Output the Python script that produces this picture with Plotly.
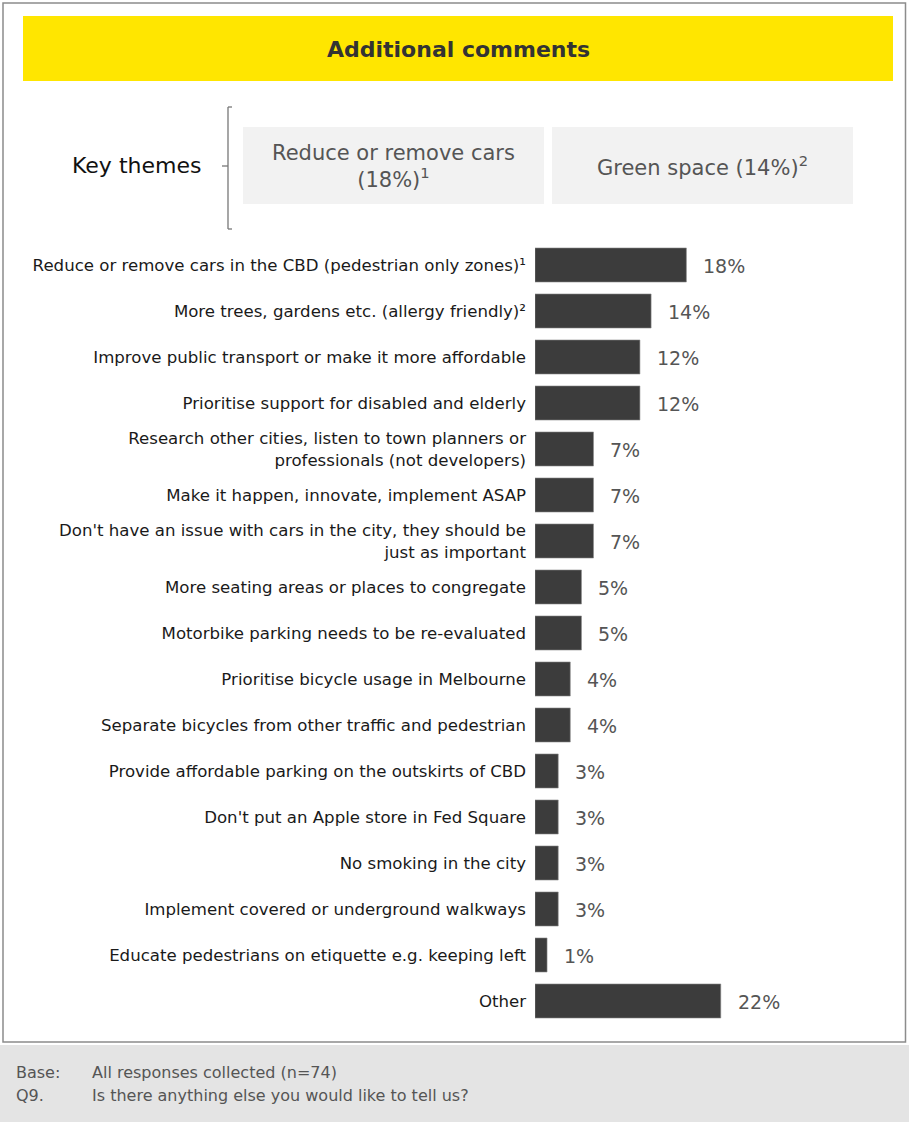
import plotly.graph_objects as go

W, H = 909, 1122

categories = [
    "Reduce or remove cars in the CBD (pedestrian only zones)¹",
    "More trees, gardens etc. (allergy friendly)²",
    "Improve public transport or make it more affordable",
    "Prioritise support for disabled and elderly",
    "Research other cities, listen to town planners or<br>professionals (not developers)",
    "Make it happen, innovate, implement ASAP",
    "Don't have an issue with cars in the city, they should be<br>just as important",
    "More seating areas or places to congregate",
    "Motorbike parking needs to be re-evaluated",
    "Prioritise bicycle usage in Melbourne",
    "Separate bicycles from other traffic and pedestrian",
    "Provide affordable parking on the outskirts of CBD",
    "Don't put an Apple store in Fed Square",
    "No smoking in the city",
    "Implement covered or underground walkways",
    "Educate pedestrians on etiquette e.g. keeping left",
    "Other",
]
values = [17.6, 13.5, 12.2, 12.2, 6.8, 6.8, 6.8, 5.4, 5.4, 4.1, 4.1, 2.7, 2.7, 2.7, 2.7, 1.4, 21.6]
value_labels = ["18%", "14%", "12%", "12%", "7%", "7%", "7%", "5%", "5%", "4%", "4%",
                "3%", "3%", "3%", "3%", "1%", "22%"]

title_text = "Additional comments"
key_label = "Key themes"
theme_1 = "Reduce or remove cars<br>(18%)<sup>1</sup>"
theme_2 = "Green space (14%)<sup>2</sup>"
base_label, base_text = "Base:", "All responses collected (n=74)"
q_label, q_text = "Q9.", "Is there anything else you would like to tell us?"

FONT = "DejaVu Sans"


def px(x):
    return x / W


def py(y):
    return 1 - y / H


fig = go.Figure()
fig.add_trace(go.Bar(
    y=categories, x=values, orientation="h",
    marker=dict(color="#3c3c3c", line=dict(color="#8a8a8a", width=0.6)),
    width=0.74, hoverinfo="skip",
))

annotations = []
for c, v, t in zip(categories, values, value_labels):
    annotations.append(dict(x=v, y=c, xref="x", yref="y", text=t, showarrow=False,
                            xanchor="left", xshift=15, yshift=-1,
                            font=dict(family=FONT, size=19, color="#555555")))

annotations += [
    dict(x=px(458), y=py(49), xref="paper", yref="paper", text="<b>" + title_text + "</b>",
         showarrow=False, xanchor="center", yanchor="middle",
         font=dict(family=FONT, size=22, color="#333333")),
    dict(x=px(203), y=py(165), xref="paper", yref="paper", text=key_label,
         showarrow=False, xanchor="right", yanchor="middle",
         font=dict(family=FONT, size=22, color="#111111")),
    dict(x=px(393), y=py(166), xref="paper", yref="paper", text=theme_1,
         showarrow=False, xanchor="center", yanchor="middle",
         font=dict(family=FONT, size=21, color="#555555")),
    dict(x=px(702), y=py(166), xref="paper", yref="paper", text=theme_2,
         showarrow=False, xanchor="center", yanchor="middle",
         font=dict(family=FONT, size=21, color="#555555")),
    dict(x=px(14), y=py(1072), xref="paper", yref="paper", text=base_label,
         showarrow=False, xanchor="left", yanchor="middle",
         font=dict(family=FONT, size=16, color="#555555")),
    dict(x=px(90), y=py(1072), xref="paper", yref="paper", text=base_text,
         showarrow=False, xanchor="left", yanchor="middle",
         font=dict(family=FONT, size=16, color="#555555")),
    dict(x=px(14), y=py(1095), xref="paper", yref="paper", text=q_label,
         showarrow=False, xanchor="left", yanchor="middle",
         font=dict(family=FONT, size=16, color="#555555")),
    dict(x=px(90), y=py(1095), xref="paper", yref="paper", text=q_text,
         showarrow=False, xanchor="left", yanchor="middle",
         font=dict(family=FONT, size=16, color="#555555")),
]


def rect(x0, y0, x1, y1, fill, line=None, lw=0, layer="below"):
    return dict(type="rect", xref="paper", yref="paper", x0=px(x0), x1=px(x1),
                y0=py(y1), y1=py(y0), fillcolor=fill,
                line=dict(color=line or fill, width=lw), layer=layer)


def seg(x0, y0, x1, y1, color="#777777", w=1.3):
    return dict(type="line", xref="paper", yref="paper", x0=px(x0), x1=px(x1),
                y0=py(y0), y1=py(y1), line=dict(color=color, width=w))


shapes = [
    rect(3, 3, 905.5, 1042, "white", line="#8c8c8c", lw=1.5),
    rect(0, 1045, 909, 1122, "#e4e4e4"),
    rect(23, 16, 893, 81, "#ffe600"),
    rect(243, 127, 544, 204, "#f2f2f2"),
    rect(552, 127, 853, 204, "#f2f2f2"),
    seg(228, 107, 228, 229),
    seg(228, 107, 232, 107),
    seg(228, 229, 232, 229),
    seg(222, 166, 228, 166),
]

fig.update_layout(
    width=W, height=H, margin=dict(l=0, r=0, t=0, b=0),
    paper_bgcolor="white", plot_bgcolor="rgba(0,0,0,0)",
    showlegend=False, bargap=0.26,
    xaxis=dict(domain=[px(535), px(879)], range=[0, 40], visible=False, fixedrange=True),
    yaxis=dict(domain=[1 - 1024 / H, 1 - 242 / H], autorange="reversed",
               showgrid=False, showline=False, zeroline=False, ticks="",
               ticklabelstandoff=8, fixedrange=True,
               tickfont=dict(family=FONT, size=16.6, color="#1a1a1a")),
    shapes=shapes, annotations=annotations,
)

fig.write_html(
    "out.html",
    config={"displayModeBar": False},
    post_script="document.body.style.margin='0';document.body.style.padding='0';"
                "document.body.style.overflow='hidden';",
)
